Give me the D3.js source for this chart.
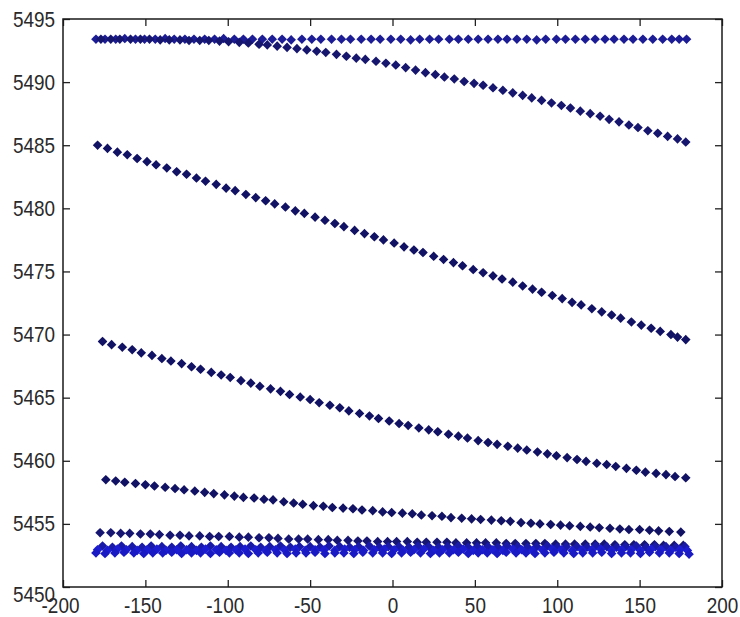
<!DOCTYPE html>
<html>
<head>
<meta charset="utf-8">
<script src="https://cdnjs.cloudflare.com/ajax/libs/d3/7.8.5/d3.min.js"></script>
<style>
  html, body { margin: 0; padding: 0; background: #fff; }
  .tick text { font-family: "Liberation Sans", Arial, sans-serif; font-size: 22px; fill: #2a2a2a; }
  .tick line { stroke: #222; stroke-width: 1.3; }
</style>
</head>
<body>
<svg id="chart"></svg>
<script>
// x ticks / y ticks
const xTicks = [-200, -150, -100, -50, 0, 50, 100, 150, 200];
const yTicks = [5450, 5455, 5460, 5465, 5470, 5475, 5480, 5485, 5490, 5495];

// flat row at the top
const xA = [-180,-174.5,-168,-162.5,-156,-150.5,-144,-138,-132.5,-126,
  -120.5,-114,-108,-102.5,-96,-90.5,-85,-79,-73,-67,
  -61.5,-55,-49,-43.5,-37,-31,-25.5,-19,-13,-7.5,
  -1,5,11,16.5,22.5,28,34.5,40,46,52,
  58,64,69.5,75.5,81.5,87.5,93,99.5,105,111,
  117,123,129,134.5,140.5,146,152,158,164,169.5,
  174,178.5];
const yA = [5493.4,5493.4,5493.4,5493.45,5493.4,5493.4,5493.4,5493.45,5493.4,5493.4,
  5493.4,5493.4,5493.4,5493.45,5493.4,5493.4,5493.4,5493.4,5493.4,5493.4,
  5493.35,5493.4,5493.4,5493.4,5493.4,5493.4,5493.4,5493.4,5493.4,5493.4,
  5493.4,5493.4,5493.35,5493.4,5493.4,5493.4,5493.4,5493.4,5493.4,5493.4,
  5493.4,5493.4,5493.4,5493.4,5493.4,5493.35,5493.4,5493.4,5493.4,5493.4,
  5493.4,5493.4,5493.4,5493.4,5493.4,5493.4,5493.4,5493.4,5493.4,5493.4,
  5493.4,5493.4];

// top row that bends down to ~5485
const xB = [-177,-171,-165.5,-159,-153,-147.5,-141,-135.5,-129,-123.5,
  -117,-111.5,-105,-99.5,-93,-87.5,-81,-76,-70,-64,
  -58,-52,-46,-40.5,-34,-28,-22,-16.5,-10,-4,
  2,8,14,20,26,31.5,37.5,43.5,49.5,55,
  61,67,73,79,84.5,90.5,96.5,102.5,108,114,
  120,126,131.5,137.5,143.5,149,155,161,167,173,
  178];
const yB = [5493.4,5493.4,5493.4,5493.4,5493.4,5493.4,5493.35,5493.35,5493.35,5493.3,
  5493.3,5493.3,5493.25,5493.2,5493.15,5493.1,5493.0,5492.95,5492.85,5492.75,
  5492.65,5492.55,5492.45,5492.35,5492.2,5492.05,5491.9,5491.8,5491.65,5491.5,
  5491.35,5491.15,5490.95,5490.75,5490.6,5490.4,5490.25,5490.05,5489.9,5489.75,
  5489.55,5489.35,5489.15,5488.95,5488.75,5488.55,5488.35,5488.15,5487.95,5487.7,
  5487.5,5487.3,5487.05,5486.85,5486.6,5486.4,5486.15,5485.95,5485.7,5485.5,
  5485.25];

const xC = [-179,-173,-167,-161,-155,-149,-143.5,-137,-131,-125,
  -119,-113.5,-107,-101,-95.5,-89,-83,-77,-71.5,-65,
  -59,-53.5,-47,-41,-35,-29.5,-23,-17,-11,-5.5,
  1,7,13,18.5,25,31,37,42.5,49,55,
  61,66.5,73,79,85,90.5,97,103,109,114.5,
  121,127,133,138.5,145,151,157,162.5,169,173,
  178];
const yC = [5485.0,5484.75,5484.45,5484.25,5483.95,5483.7,5483.45,5483.2,5482.9,5482.7,
  5482.4,5482.15,5481.9,5481.6,5481.4,5481.1,5480.85,5480.6,5480.35,5480.1,
  5479.8,5479.6,5479.3,5479.05,5478.8,5478.55,5478.25,5478.0,5477.75,5477.5,
  5477.25,5476.95,5476.7,5476.5,5476.2,5475.95,5475.7,5475.45,5475.15,5474.9,
  5474.65,5474.4,5474.15,5473.85,5473.6,5473.35,5473.1,5472.85,5472.55,5472.35,
  5472.05,5471.8,5471.55,5471.3,5471.0,5470.75,5470.5,5470.25,5470.0,5469.8,
  5469.6];

const xD = [-176,-170.5,-164,-158,-152.5,-146,-140,-134.5,-128,-122,
  -116.5,-110,-104,-98.5,-92,-86,-80.5,-74,-68,-62.5,
  -56,-50,-44.5,-38,-32,-26.5,-20,-14,-8.5,-2,
  4,9.5,16,22,27.5,34,40,45.5,52,58,
  63.5,70,76,81.5,88,94,99.5,106,112,117.5,
  124,130,135.5,142,148,153.5,160,166,171.5,178];
const yD = [5469.45,5469.2,5469.0,5468.8,5468.55,5468.35,5468.1,5467.9,5467.7,5467.45,
  5467.25,5467.0,5466.8,5466.6,5466.35,5466.15,5465.9,5465.7,5465.5,5465.25,
  5465.05,5464.85,5464.6,5464.4,5464.2,5463.95,5463.75,5463.55,5463.35,5463.15,
  5462.95,5462.8,5462.6,5462.45,5462.3,5462.1,5461.95,5461.8,5461.6,5461.45,
  5461.3,5461.15,5461.0,5460.85,5460.7,5460.55,5460.4,5460.25,5460.1,5459.95,
  5459.8,5459.7,5459.55,5459.4,5459.25,5459.1,5459.0,5458.9,5458.75,5458.65];

const xE = [-174,-168,-162.5,-156,-150,-144.5,-138,-132,-126.5,-120,
  -114,-108.5,-102,-96,-90.5,-84,-78,-72.5,-66,-60,
  -54.5,-48,-42,-36.5,-30,-24,-18.5,-12,-6,-0.5,
  6,12,17.5,24,30,35.5,42,48,53.5,60,
  66,71.5,78,84,89.5,96,102,107.5,114,120,
  125.5,132,138,143.5,150,156,161.5,168,175];
const yE = [5458.5,5458.4,5458.3,5458.2,5458.1,5458.0,5457.9,5457.8,5457.7,5457.6,
  5457.5,5457.4,5457.3,5457.2,5457.1,5457.05,5456.95,5456.9,5456.75,5456.65,
  5456.55,5456.45,5456.4,5456.3,5456.25,5456.2,5456.1,5456.05,5455.95,5455.9,
  5455.85,5455.8,5455.7,5455.65,5455.6,5455.5,5455.45,5455.4,5455.35,5455.3,
  5455.25,5455.2,5455.1,5455.05,5455.0,5454.95,5454.9,5454.85,5454.8,5454.75,
  5454.7,5454.65,5454.6,5454.55,5454.55,5454.5,5454.45,5454.4,5454.35];

const xF = [-177.5,-171,-165,-159.5,-153,-147,-141.5,-135,-129,-123.5,
  -117,-111,-105.5,-99,-93,-87.5,-81,-75,-69.5,-63,
  -57,-51.5,-45,-39,-33.5,-27,-21,-15.5,-9,-3,
  2.5,9,15,20.5,27,33,38.5,45,51,56.5,
  63,69,74.5,81,87,92.5,99,105,110.5,117,
  123,128.5,135,141,146.5,153,159,164.5,171,176.5];
const yF = [5454.3,5454.3,5454.25,5454.25,5454.2,5454.2,5454.15,5454.1,5454.1,5454.05,
  5454.05,5454.0,5454.0,5454.0,5453.95,5453.95,5453.9,5453.9,5453.85,5453.8,
  5453.8,5453.8,5453.75,5453.75,5453.7,5453.7,5453.65,5453.65,5453.6,5453.6,
  5453.6,5453.6,5453.55,5453.55,5453.55,5453.55,5453.5,5453.5,5453.5,5453.5,
  5453.5,5453.45,5453.45,5453.45,5453.45,5453.45,5453.4,5453.4,5453.4,5453.4,
  5453.4,5453.4,5453.35,5453.35,5453.35,5453.35,5453.35,5453.3,5453.3,5453.3];

// bottom band, three rows lying on top of each other
const xG = [-176,-170,-164.5,-158,-152,-146.5,-140,-134,-128.5,-122,
  -116,-110.5,-104,-98,-92.5,-86,-80,-74.5,-68,-62,
  -56.5,-50,-44,-38.5,-32,-26,-20.5,-14,-8,-2.5,
  4,10,15.5,22,28,33.5,40,46,51.5,58,
  64,69.5,76,82,87.5,94,100,105.5,112,118,
  123.5,130,136,141.5,148,154,159.5,166,172,177.5];
const yG = [5453.25,5453.15,5453.25,5453.2,5453.15,5453.25,5453.2,5453.15,5453.25,5453.2,
  5453.15,5453.25,5453.2,5453.15,5453.2,5453.25,5453.15,5453.2,5453.25,5453.15,
  5453.2,5453.2,5453.15,5453.25,5453.2,5453.15,5453.2,5453.25,5453.15,5453.2,
  5453.2,5453.15,5453.25,5453.2,5453.15,5453.2,5453.25,5453.15,5453.2,5453.2,
  5453.15,5453.25,5453.2,5453.15,5453.2,5453.25,5453.15,5453.2,5453.2,5453.15,
  5453.25,5453.2,5453.15,5453.2,5453.25,5453.15,5453.2,5453.2,5453.15,5453.2];

const xH = [-179,-173,-167,-161.5,-155,-149,-143,-137.5,-131,-125,
  -119,-113.5,-107,-101,-95,-89.5,-83,-77,-71,-65.5,
  -59,-53,-47,-41.5,-35,-29,-23,-17.5,-11,-5,
  1,6.5,13,19,25,30.5,37,43,49,54.5,
  61,67,73,78.5,85,91,97,102.5,109,115,
  121,126.5,133,139,145,150.5,157,163,169,174.5,
  179];
const yH = [5452.95,5452.9,5453.0,5452.95,5452.9,5452.95,5453.0,5452.9,5452.95,5452.95,
  5452.9,5453.0,5452.95,5452.9,5452.95,5453.0,5452.95,5452.9,5452.95,5452.95,
  5453.0,5452.9,5452.95,5452.95,5452.9,5453.0,5452.95,5452.9,5452.95,5453.0,
  5452.95,5452.9,5452.95,5453.0,5452.9,5452.95,5452.95,5453.0,5452.9,5452.95,
  5452.95,5452.9,5453.0,5452.95,5452.9,5452.95,5453.0,5452.95,5452.9,5452.95,
  5452.95,5453.0,5452.9,5452.95,5452.95,5452.9,5453.0,5452.95,5452.9,5452.95,
  5452.9];

const xI = [-180,-174.5,-168.5,-163,-157,-151,-145.5,-139.5,-134,-128,
  -122,-116.5,-110.5,-105,-99,-93,-87.5,-81.5,-76,-70,
  -64,-58.5,-52.5,-47,-41,-35,-29.5,-23.5,-18,-12,
  -6,-0.5,5.5,11,17,23,28.5,34.5,40,46,
  52,57.5,63.5,69,75,81,86.5,92.5,98,104,
  110,115.5,121.5,127,133,139,144.5,150.5,156,162,
  168,174,180];
const yI = [5452.7,5452.65,5452.7,5452.75,5452.7,5452.65,5452.7,5452.7,5452.75,5452.65,
  5452.7,5452.7,5452.65,5452.75,5452.7,5452.7,5452.65,5452.7,5452.75,5452.7,
  5452.65,5452.7,5452.7,5452.75,5452.65,5452.7,5452.7,5452.65,5452.75,5452.7,
  5452.7,5452.65,5452.7,5452.75,5452.7,5452.65,5452.7,5452.7,5452.75,5452.65,
  5452.7,5452.7,5452.65,5452.75,5452.7,5452.7,5452.65,5452.7,5452.75,5452.7,
  5452.65,5452.7,5452.7,5452.75,5452.65,5452.7,5452.7,5452.65,5452.75,5452.7,
  5452.7,5452.65,5452.6];

const series = [
  { xs: xA, ys: yA, color: "#1c1c96" },
  { xs: xB, ys: yB, color: "#16166f" },
  { xs: xC, ys: yC, color: "#121265" },
  { xs: xD, ys: yD, color: "#121265" },
  { xs: xE, ys: yE, color: "#121265" },
  { xs: xF, ys: yF, color: "#161672" },
  { xs: xG, ys: yG, color: "#1a1aa8" },
  { xs: xH, ys: yH, color: "#1c1cd2" },
  { xs: xI, ys: yI, color: "#1a1ac4" }
];

const margin = {top: 19, right: 18, bottom: 30, left: 63},
  width = 740 - margin.left - margin.right,
  height = 617 - margin.top - margin.bottom;

const svg = d3.select("#chart")
  .attr("width", 740)
  .attr("height", 617)
  .append("g")
  .attr("transform", `translate(${margin.left}, ${margin.top})`);

const x = d3.scaleLinear().domain([-200, 200]).range([0, width]);
const y = d3.scaleLinear().domain([5450, 5495]).range([height, 0]);

// 4-point diamond-ish marker
const star4 = {
  draw(c, size) {
    const r = Math.sqrt(size) * 0.6, k = r * 0.5;
    c.moveTo(0, -r); c.lineTo(k, -k); c.lineTo(r, 0); c.lineTo(k, k);
    c.lineTo(0, r); c.lineTo(-k, k); c.lineTo(-r, 0); c.lineTo(-k, -k);
    c.closePath();
  }
};
const marker = d3.symbol().type(star4).size(64);

svg.append("rect")
  .attr("width", width)
  .attr("height", height)
  .attr("fill", "#fff");

series.forEach(s => {
  svg.append("g")
    .selectAll("path")
    .data(d3.zip(s.xs, s.ys))
    .join("path")
      .attr("d", marker)
      .attr("transform", d => `translate(${x(d[0])},${y(d[1])})`)
      .attr("fill", s.color);
});

const fmt = d => String(d);

// squeeze labels a bit, the original font is narrower
function narrow(sel) {
  sel.each(function() {
    const w = this.getComputedTextLength();
    d3.select(this).attr("textLength", w * 0.86).attr("lengthAdjust", "spacingAndGlyphs");
  });
}

svg.append("g")
  .attr("transform", `translate(0,${height})`)
  .call(d3.axisBottom(x).tickValues(xTicks).tickFormat(fmt).tickSizeInner(-7).tickSizeOuter(0).tickPadding(10))
  .call(g => g.select(".domain").remove())
  .selectAll(".tick text")
    .attr("dx", d => d < 0 ? -3 : 0)
    .call(narrow);

svg.append("g")
  .call(d3.axisTop(x).tickValues(xTicks).tickFormat("").tickSizeInner(-7).tickSizeOuter(0))
  .call(g => g.select(".domain").remove());

svg.append("g")
  .call(d3.axisLeft(y).tickValues(yTicks).tickFormat(fmt).tickSizeInner(-7).tickSizeOuter(0).tickPadding(8))
  .call(g => g.select(".domain").remove())
  .selectAll(".tick text")
    .attr("dy", d => d === 5450 ? "0.68em" : "0.32em")
    .call(narrow);

svg.append("g")
  .attr("transform", `translate(${width},0)`)
  .call(d3.axisRight(y).tickValues(yTicks).tickFormat("").tickSizeInner(-7).tickSizeOuter(0))
  .call(g => g.select(".domain").remove());

svg.append("rect")
  .attr("width", width)
  .attr("height", height)
  .attr("fill", "none")
  .attr("stroke", "#1a1a1a")
  .attr("stroke-width", 1.5);
</script>
</body>
</html>
